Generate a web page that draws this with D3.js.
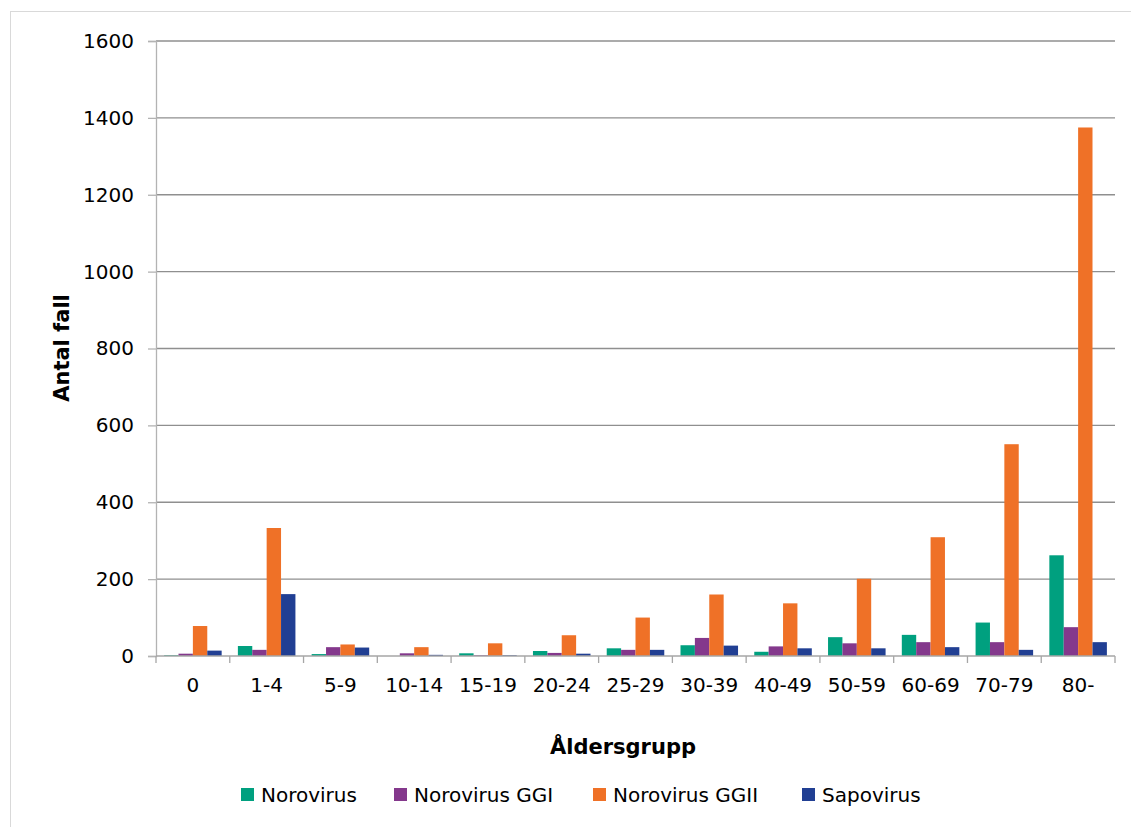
<!DOCTYPE html>
<html><head><meta charset="utf-8">
<script src="https://cdn.jsdelivr.net/npm/d3@7"></script>
<style>body{margin:0;background:#fff}svg{display:block}text{font-family:"DejaVu Sans",Verdana,sans-serif;fill:#000}</style>
</head><body><svg id="c" width="1131" height="827"></svg>
<script>
const categories = ["0","1-4","5-9","10-14","15-19","20-24","25-29","30-39","40-49","50-59","60-69","70-79","80-"];
const seriesNames = ["Norovirus","Norovirus GGI","Norovirus GGII","Sapovirus"];
const norovirus     = [2, 26, 5, 0, 7, 13, 20, 28, 11, 49, 55, 87, 262];
const norovirusGGI  = [6, 16, 23, 7, 2, 8, 16, 47, 25, 33, 36, 36, 75];
const norovirusGGII = [78, 333, 30, 23, 33, 54, 100, 160, 137, 201, 309, 551, 1375];
const sapovirus     = [14, 161, 22, 3, 2, 6, 16, 27, 20, 20, 23, 16, 36];
const yTicks = [0,200,400,600,800,1000,1200,1400,1600];
const colors = ["#00a07f","#84388c","#ef7127","#213f93"];
const seriesValues = [norovirus, norovirusGGI, norovirusGGII, sapovirus];

const svg = d3.select("#c");
svg.append("rect").attr("x",10.5).attr("y",11.5).attr("width",1130).attr("height",830)
  .attr("fill","none").attr("stroke","#d9d9d9");

const L=156, R=1115, T=41, B=656;
const x0 = d3.scaleBand().domain(categories).range([L,R]).padding(0);
const groupFrac = 0.78;
const x1 = d3.scaleBand().domain(seriesNames).range([0, x0.bandwidth()*groupFrac]).padding(0);
const y = d3.scaleLinear().domain([0,1600]).range([B,T]);

// gridlines
svg.append("g").selectAll("line").data(yTicks.filter(d=>d>0)).join("line")
  .attr("x1",L).attr("x2",R).attr("y1",d=>y(d)).attr("y2",d=>y(d))
  .attr("stroke","#8f8f8f").attr("stroke-width",1.3);

// y axis
const yAxis = d3.axisLeft(y).tickValues(yTicks).tickSize(8).tickPadding(14).tickFormat(d3.format("d"));
const ga = svg.append("g").attr("transform",`translate(${L},0)`).call(yAxis);
ga.select(".domain").attr("stroke","#b3b3b3").attr("stroke-width",1.3);
ga.selectAll(".tick line").attr("stroke","#b3b3b3").attr("stroke-width",1.3);
ga.selectAll(".tick text").attr("font-size",20).attr("font-family","DejaVu Sans").attr("fill","#000");

// bars
const groups = svg.append("g").selectAll("g").data(categories).join("g")
  .attr("transform",d=>`translate(${x0(d)+x0.bandwidth()*(1-groupFrac)/2},0)`);
groups.selectAll("rect").data((c,i)=>seriesNames.map((s,j)=>({s, v: seriesValues[j][i], j})))
  .join("rect")
  .attr("x",d=>x1(d.s)).attr("width",x1.bandwidth())
  .attr("y",d=>y(d.v)).attr("height",d=>B-y(d.v))
  .attr("fill",d=>colors[d.j]);

// x axis
const xAxis = d3.axisBottom(x0).tickSize(0).tickPadding(22);
const gx = svg.append("g").attr("transform",`translate(0,${B})`).call(xAxis);
gx.select(".domain").remove();
gx.selectAll(".tick text").attr("font-size",20).attr("font-family","DejaVu Sans").attr("fill","#000");
svg.append("line").attr("x1",L).attr("x2",R).attr("y1",B).attr("y2",B).attr("stroke","#a6a6a6").attr("stroke-width",1.3);
const bounds = categories.map(c=>x0(c)).concat([R]);
svg.append("g").selectAll("line").data(bounds).join("line")
  .attr("x1",d=>d).attr("x2",d=>d).attr("y1",B).attr("y2",B+7)
  .attr("stroke","#a6a6a6").attr("stroke-width",1.3);

// axis titles
svg.append("text").attr("transform","translate(69,348) rotate(-90)").attr("text-anchor","middle")
  .attr("font-size",21).attr("font-weight","bold").text("Antal fall");
svg.append("text").attr("x",623).attr("y",754).attr("text-anchor","middle")
  .attr("font-size",21).attr("font-weight","bold").text("Åldersgrupp");

// legend
const legX = [241, 394, 593, 802];
const leg = svg.append("g").selectAll("g").data(seriesNames).join("g")
  .attr("transform",(d,i)=>`translate(${legX[i]},0)`);
leg.append("rect").attr("x",0).attr("y",788).attr("width",13).attr("height",13).attr("fill",(d,i)=>colors[i]);
leg.append("text").attr("x",20).attr("y",802).attr("font-size",20).text(d=>d);
</script></body></html>
